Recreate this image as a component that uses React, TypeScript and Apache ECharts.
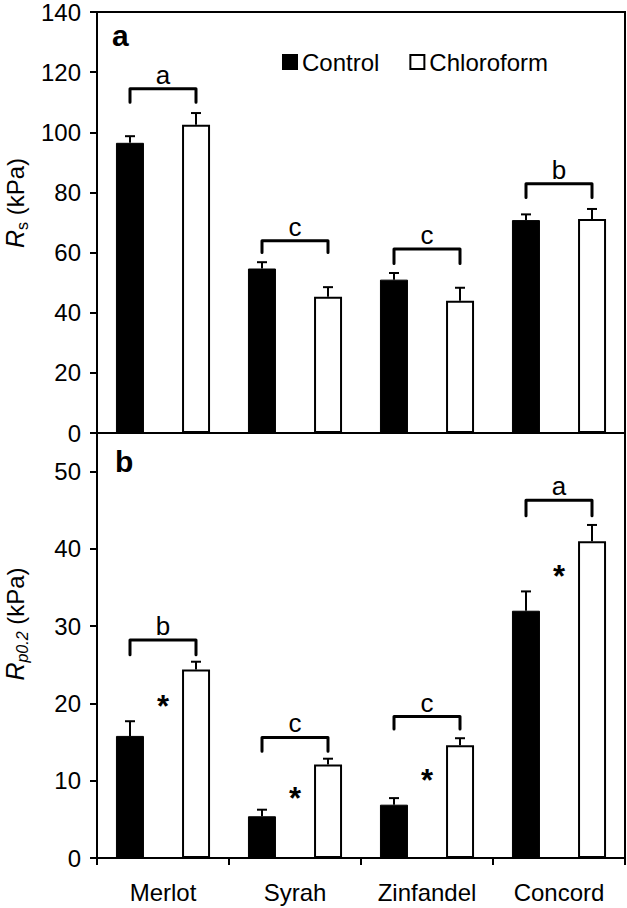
import React, { useEffect, useRef } from 'react';
import * as echarts from 'echarts';

const categories = ['Merlot', 'Syrah', 'Zinfandel', 'Concord'];
const seriesNames = ['Control', 'Chloroform'];

// Panel a: Rs (kPa)
const rsControl = [96.5, 54.7, 51.0, 70.8];
const rsControlErr = [2.2, 2.1, 2.2, 1.9];
const rsChloro = [102.5, 45.3, 44.0, 71.2];
const rsChloroErr = [3.9, 3.2, 4.3, 3.3];
const rsBracketTop = [114.5, 63.9, 61.2, 82.9];
const rsBracketLeg = [110.0, 60.0, 56.4, 78.3];
const rsLetters = ['a', 'c', 'c', 'b'];
const rsMin = 0;
const rsMax = 140;
const rsStep = 20;

// Panel b: Rp0.2 (kPa)
const rpControl = [15.8, 5.4, 6.9, 32.0];
const rpControlErr = [1.9, 0.85, 0.85, 2.5];
const rpChloro = [24.4, 12.1, 14.6, 41.0];
const rpChloroErr = [1.0, 0.75, 0.9, 2.1];
const rpBracketTop = [28.2, 15.6, 18.3, 46.3];
const rpBracketLeg = [26.3, 13.8, 16.7, 44.3];
const rpLetters = ['b', 'c', 'c', 'a'];
const rpAsterisk = [20.2, 8.4, 10.7, 37.1];
const rpMin = 0;
const rpMax = 55;
const rpStep = 10;

const FONT = '"Liberation Sans", Arial, Helvetica, sans-serif';

function errorSeries(vals: number[], errs: number[], grid: number, side: number) {
  return {
    type: 'custom',
    xAxisIndex: grid,
    yAxisIndex: grid,
    silent: true,
    z: 5,
    data: vals.map((v, i) => [i, v, errs[i]]),
    renderItem: (params: any, api: any) => {
      const i = api.value(0);
      const v = api.value(1);
      const e = api.value(2);
      const band = api.size([1, 0])[0];
      const p0 = api.coord([i, v]);
      const p1 = api.coord([i, v + e]);
      const x = p0[0] + side * band * 0.25;
      return {
        type: 'group',
        children: [
          { type: 'line', shape: { x1: x, y1: p0[1], x2: x, y2: p1[1] }, style: { stroke: '#000', lineWidth: 2 } },
          { type: 'line', shape: { x1: x - 5, y1: p1[1], x2: x + 5, y2: p1[1] }, style: { stroke: '#000', lineWidth: 2 } },
        ],
      };
    },
  };
}

function bracketSeries(tops: number[], legs: number[], letters: string[], grid: number) {
  return {
    type: 'custom',
    xAxisIndex: grid,
    yAxisIndex: grid,
    silent: true,
    z: 5,
    data: tops.map((t, i) => [i, t, legs[i]]),
    renderItem: (params: any, api: any) => {
      const i = api.value(0);
      const band = api.size([1, 0])[0];
      const c = api.coord([i, api.value(1)]);
      const l = api.coord([i, api.value(2)]);
      const x1 = c[0] - band * 0.25;
      const x2 = c[0] + band * 0.25;
      return {
        type: 'group',
        children: [
          {
            type: 'polyline',
            shape: { points: [[x1, l[1]], [x1, c[1]], [x2, c[1]], [x2, l[1]]] },
            style: { stroke: '#000', lineWidth: 3, fill: null, lineJoin: 'round', lineCap: 'round' },
          },
          {
            type: 'text',
            x: c[0],
            y: c[1] - 1,
            style: {
              text: letters[params.dataIndex],
              fontSize: 26,
              fontFamily: FONT,
              fill: '#000',
              align: 'center',
              verticalAlign: 'bottom',
            },
          },
        ],
      };
    },
  };
}

function asteriskSeries(vals: number[], grid: number) {
  return {
    type: 'custom',
    xAxisIndex: grid,
    yAxisIndex: grid,
    silent: true,
    z: 5,
    data: vals.map((v, i) => [i, v]),
    renderItem: (params: any, api: any) => {
      const p = api.coord([api.value(0), api.value(1)]);
      return {
        type: 'text',
        x: p[0],
        y: p[1] + 5,
        style: {
          text: '*',
          fontSize: 31,
          fontWeight: 'bold',
          fontFamily: FONT,
          fill: '#000',
          align: 'center',
          verticalAlign: 'middle',
        },
      };
    },
  };
}

function barSeries(name: string, vals: number[], grid: number, filled: boolean) {
  return {
    type: 'bar',
    name,
    xAxisIndex: grid,
    yAxisIndex: grid,
    data: vals,
    barWidth: 28,
    barGap: '136%',
    itemStyle: filled
      ? { color: '#000', borderColor: '#000', borderWidth: 1 }
      : { color: '#fff', borderColor: '#000', borderWidth: 2 },
    silent: true,
    z: 2,
  };
}

const axisLineStyle = { show: true, lineStyle: { color: '#000', width: 2 } };

export default function App() {
  const ref = useRef<HTMLDivElement>(null);

  useEffect(() => {
    document.body.style.margin = '0';
    if (!ref.current) return;
    const chart = echarts.init(ref.current, undefined, { renderer: 'svg' });
    const option: any = {
      animation: false,
      backgroundColor: '#fff',
      textStyle: { fontFamily: FONT, color: '#000' },
      legend: {
        data: seriesNames,
        left: 282,
        top: 50,
        padding: 0,
        icon: 'rect',
        itemWidth: 14,
        itemHeight: 14,
        itemGap: 30,
        textStyle: { fontSize: 24, fontFamily: FONT, color: '#000' },
        selectedMode: false,
      },
      grid: [
        { left: 97, top: 10, width: 528, height: 423, show: true, borderColor: '#000', borderWidth: 2, backgroundColor: 'transparent' },
        { left: 97, top: 433, width: 528, height: 425, show: true, borderColor: '#000', borderWidth: 2, backgroundColor: 'transparent' },
      ],
      xAxis: [
        {
          type: 'category',
          gridIndex: 0,
          data: categories,
          axisLine: axisLineStyle,
          axisTick: { show: false },
          axisLabel: { show: false },
        },
        {
          type: 'category',
          gridIndex: 1,
          data: categories,
          axisLine: axisLineStyle,
          axisTick: { show: true, length: 7, interval: 0, lineStyle: { color: '#000', width: 2 } },
          axisLabel: { show: true, interval: 0, fontSize: 24, fontFamily: FONT, color: '#000', margin: 22 },
        },
      ],
      yAxis: [
        {
          type: 'value',
          gridIndex: 0,
          min: rsMin,
          max: rsMax,
          interval: rsStep,
          axisLine: axisLineStyle,
          axisTick: { show: true, length: 7, lineStyle: { color: '#000', width: 2 } },
          axisLabel: { fontSize: 24, fontFamily: FONT, color: '#000', margin: 16 },
          splitLine: { show: false },
        },
        {
          type: 'value',
          gridIndex: 1,
          min: rpMin,
          max: rpMax,
          interval: rpStep,
          axisLine: axisLineStyle,
          axisTick: { show: true, length: 7, lineStyle: { color: '#000', width: 2 } },
          axisLabel: { fontSize: 24, fontFamily: FONT, color: '#000', margin: 16, showMaxLabel: false },
          splitLine: { show: false },
        },
      ],
      graphic: [
        {
          type: 'text',
          x: 112,
          y: 35,
          style: { text: 'a', fontSize: 30, fontWeight: 'bold', fontFamily: FONT, fill: '#000', align: 'left', verticalAlign: 'middle' },
        },
        {
          type: 'text',
          x: 115,
          y: 461,
          style: { text: 'b', fontSize: 30, fontWeight: 'bold', fontFamily: FONT, fill: '#000', align: 'left', verticalAlign: 'middle' },
        },
        {
          type: 'text',
          x: 15,
          y: 203,
          rotation: Math.PI / 2,
          style: {
            text: '{i|R}{s|s}{n| (kPa)}',
            fontFamily: FONT,
            fill: '#000',
            align: 'center',
            verticalAlign: 'middle',
            rich: {
              i: { fontSize: 25, fontStyle: 'italic', fontFamily: FONT, lineHeight: 30, fill: '#000' },
              s: { fontSize: 16, fontFamily: FONT, verticalAlign: 'bottom', fill: '#000' },
              n: { fontSize: 24, fontFamily: FONT, lineHeight: 30, fill: '#000' },
            },
          },
        },
        {
          type: 'text',
          x: 15,
          y: 624,
          rotation: Math.PI / 2,
          style: {
            text: '{i|R}{s|p0.2}{n| (kPa)}',
            fontFamily: FONT,
            fill: '#000',
            align: 'center',
            verticalAlign: 'middle',
            rich: {
              i: { fontSize: 25, fontStyle: 'italic', fontFamily: FONT, lineHeight: 30, fill: '#000' },
              s: { fontSize: 16, fontStyle: 'italic', fontFamily: FONT, verticalAlign: 'bottom', fill: '#000' },
              n: { fontSize: 24, fontFamily: FONT, lineHeight: 30, fill: '#000' },
            },
          },
        },
      ],
      series: [
        barSeries(seriesNames[0], rsControl, 0, true),
        barSeries(seriesNames[1], rsChloro, 0, false),
        errorSeries(rsControl, rsControlErr, 0, -1),
        errorSeries(rsChloro, rsChloroErr, 0, 1),
        bracketSeries(rsBracketTop, rsBracketLeg, rsLetters, 0),
        barSeries(seriesNames[0], rpControl, 1, true),
        barSeries(seriesNames[1], rpChloro, 1, false),
        errorSeries(rpControl, rpControlErr, 1, -1),
        errorSeries(rpChloro, rpChloroErr, 1, 1),
        bracketSeries(rpBracketTop, rpBracketLeg, rpLetters, 1),
        asteriskSeries(rpAsterisk, 1),
      ],
    };
    chart.setOption(option);
    return () => chart.dispose();
  }, []);

  return <div ref={ref} style={{ width: 627, height: 908 }} />;
}
